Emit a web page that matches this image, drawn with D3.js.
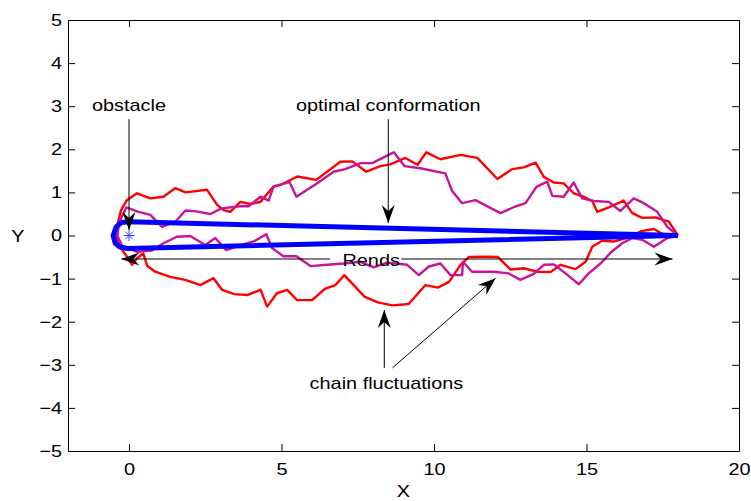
<!DOCTYPE html>
<html>
<head>
<meta charset="utf-8">
<script src="https://cdn.jsdelivr.net/npm/d3@7"></script>
<style>
  body { margin: 0; background: #fff; }
  svg { font-family: 'Liberation Sans', Arial, Helvetica, sans-serif; }
</style>
</head>
<body>
<div id="chart"></div>
<script>
// chain 1 (red): top from the right end to the nose, then the bottom back
const redX = [18.0, 17.70, 17.26, 16.83, 16.50, 16.22, 15.75, 15.35, 15.19, 14.91, 14.58, 14.25, 13.93, 13.60, 13.33, 12.94, 12.56, 12.08, 11.42, 10.87, 10.21, 9.75, 9.46, 9.06, 8.57, 8.24, 7.78, 7.32, 6.93, 6.14, 5.52, 4.96, 4.73, 4.31, 3.98, 3.65, 3.32, 3.10, 2.89, 2.56, 1.85, 1.52, 1.13, 0.70, 0.26, -0.07, -0.26, -0.37, -0.39, -0.29, -0.07, 0.10, 0.27, 0.47, 0.60, 0.86, 1.35, 1.85, 2.34, 2.77, 3.05, 3.45, 3.90, 4.31, 4.53, 4.85, 5.19, 5.51, 6.00, 6.44, 6.77, 7.06, 7.37, 7.72, 8.16, 8.64, 9.17, 9.72, 10.13, 10.50, 10.87, 11.14, 11.69, 12.10, 12.51, 12.94, 13.38, 13.82, 14.15, 14.64, 14.97, 15.19, 15.51, 15.88, 16.30, 16.80, 17.21, 17.53, 18.0]
const redY = [0.0, 0.32, 0.42, 0.41, 0.52, 0.81, 0.66, 0.55, 0.80, 0.90, 0.98, 1.21, 1.23, 1.36, 1.69, 1.58, 1.54, 1.31, 1.80, 1.87, 1.77, 1.93, 1.64, 1.80, 1.65, 1.61, 1.48, 1.72, 1.71, 1.29, 1.37, 1.17, 1.13, 0.78, 0.73, 0.78, 0.55, 0.59, 0.71, 1.06, 1.00, 1.10, 0.90, 0.86, 0.98, 0.82, 0.59, 0.28, -0.03, -0.26, -0.49, -0.68, -0.52, -0.42, -0.71, -0.84, -0.96, -1.03, -1.15, -0.99, -1.26, -1.36, -1.38, -1.26, -1.65, -1.34, -1.26, -1.50, -1.50, -1.23, -1.15, -0.92, -1.15, -1.42, -1.55, -1.62, -1.59, -1.15, -1.21, -1.07, -0.68, -0.50, -0.49, -0.50, -0.79, -0.76, -0.84, -0.85, -0.68, -0.78, -0.61, -0.26, -0.12, -0.14, -0.06, 0.10, 0.15, 0.02, 0.0]

// chain 2 (magenta)
const magentaX = [18.0, 17.65, 17.32, 16.88, 16.55, 16.11, 15.73, 15.24, 14.86, 14.58, 14.25, 13.88, 13.71, 13.36, 13.00, 12.59, 12.18, 11.36, 10.92, 10.59, 10.37, 9.55, 9.03, 8.68, 7.97, 7.59, 7.09, 6.71, 6.17, 5.49, 5.26, 4.74, 4.58, 4.31, 3.92, 3.65, 3.03, 2.67, 2.21, 1.85, 1.52, 1.08, 0.70, 0.31, -0.09, -0.32, -0.38, -0.22, 0.04, 0.26, 0.75, 1.13, 1.57, 2.01, 2.50, 2.83, 3.19, 3.68, 4.11, 4.50, 4.69, 5.06, 5.49, 5.95, 6.49, 7.04, 7.59, 8.02, 8.46, 9.12, 9.50, 9.83, 10.21, 10.54, 10.92, 10.95, 11.25, 11.96, 12.45, 12.83, 13.27, 13.60, 13.93, 14.31, 14.75, 15.07, 15.46, 15.79, 16.17, 16.50, 16.83, 17.21, 17.65, 18.0]
const magentaY = [0.0, 0.20, 0.55, 0.75, 0.86, 0.57, 0.78, 0.80, 0.86, 1.23, 0.90, 0.92, 1.25, 1.13, 0.75, 0.65, 0.52, 0.82, 0.75, 1.04, 1.44, 1.56, 1.61, 1.93, 1.68, 1.68, 1.54, 1.48, 1.21, 0.90, 1.24, 1.14, 0.81, 0.90, 0.68, 0.68, 0.63, 0.50, 0.56, 0.58, 0.32, 0.20, 0.48, 0.55, 0.65, 0.31, -0.01, -0.24, -0.31, -0.38, -0.35, -0.18, -0.03, -0.01, -0.22, -0.06, -0.34, -0.22, -0.13, 0.03, -0.29, -0.48, -0.48, -0.71, -0.68, -0.65, -0.61, -0.74, -0.63, -0.68, -0.92, -0.72, -0.65, -0.92, -0.92, -0.61, -0.84, -0.84, -0.88, -1.03, -0.89, -0.68, -0.67, -0.88, -1.13, -0.88, -0.65, -0.40, -0.18, -0.06, -0.10, -0.26, -0.06, 0.0]

// optimal conformation (blue)
const blueX = [18.0, 0.0, -0.25, -0.42, -0.52, -0.45, -0.30, -0.05, 18.0]
const blueY = [0.0, 0.32, 0.30, 0.20, 0.0, -0.18, -0.27, -0.30, 0.0]

const obstacle = [0, 0]

const xTicks = [0, 5, 10, 15, 20]
const yTicks = [-5, -4, -3, -2, -1, 0, 1, 2, 3, 4, 5]

const W = 751
const H = 501
const margin = { top: 20, right: 12, bottom: 50, left: 68 }
const stretch = 1.17 // the reference text is wider than it is tall

const svg = d3.select('#chart').append('svg')
  .attr('width', W)
  .attr('height', H)

const x = d3.scaleLinear().domain([-2, 20]).range([margin.left, W - margin.right])
const y = d3.scaleLinear().domain([-5, 5]).range([H - margin.bottom, margin.top])

// box with inward ticks on all four sides
svg.append('g')
  .attr('transform', `translate(0,${y(-5)})`)
  .call(d3.axisBottom(x).tickValues(xTicks).tickSizeInner(-7).tickSizeOuter(0).tickPadding(12))
svg.append('g')
  .attr('transform', `translate(0,${y(5)})`)
  .call(d3.axisTop(x).tickValues(xTicks).tickSizeInner(-7).tickSizeOuter(0).tickFormat(''))
svg.append('g')
  .attr('transform', `translate(${x(-2)},0)`)
  .call(d3.axisLeft(y).tickValues(yTicks).tickSizeInner(-7).tickSizeOuter(0).tickPadding(5)
    .tickFormat(d => d < 0 ? '\u2212' + Math.abs(d) : d))
svg.append('g')
  .attr('transform', `translate(${x(20)},0)`)
  .call(d3.axisRight(y).tickValues(yTicks).tickSizeInner(-7).tickSizeOuter(0).tickFormat(''))

svg.selectAll('.tick line').attr('stroke', '#000')
svg.selectAll('.domain').attr('stroke', '#000')
svg.selectAll('.tick text')
  .attr('fill', '#000')
  .style('font-size', '17px')
  .attr('transform', `scale(${stretch},1)`)

// helper for plain labels
function label (txt, px, py, anchor, rotate) {
  const t = svg.append('text')
    .attr('transform', `translate(${px},${py})` + (rotate ? ` rotate(${rotate})` : '') + ` scale(${stretch},1)`)
    .attr('text-anchor', anchor || 'middle')
    .style('font-size', '17px')
    .attr('fill', '#000')
    .text(txt)
  return t
}

label('X', x(9), 497)
label('Y', 18, y(0) + 6)

// chains
const line = d3.line()
  .x(d => x(d[0]))
  .y(d => y(d[1]))

svg.append('path')
  .datum(d3.zip(redX, redY))
  .attr('fill', 'none')
  .attr('stroke', '#ff0000')
  .attr('stroke-width', 2.4)
  .attr('stroke-linejoin', 'round')
  .attr('d', line)

svg.append('path')
  .datum(d3.zip(magentaX, magentaY))
  .attr('fill', 'none')
  .attr('stroke', '#c8139a')
  .attr('stroke-width', 2.4)
  .attr('stroke-linejoin', 'round')
  .attr('d', line)

svg.append('path')
  .datum(d3.zip(blueX, blueY))
  .attr('fill', 'none')
  .attr('stroke', '#0000ff')
  .attr('stroke-width', 5)
  .attr('stroke-linejoin', 'round')
  .attr('d', line)

// obstacle marker (asterisk)
const star = svg.append('g')
  .attr('transform', `translate(${x(obstacle[0])},${y(obstacle[1])})`)
  .attr('stroke', '#3344ff')
  .attr('stroke-width', 1)
d3.range(4).forEach(i => {
  const a = i * Math.PI / 4
  star.append('line')
    .attr('x1', -5.5 * Math.cos(a)).attr('y1', -5.5 * Math.sin(a))
    .attr('x2', 5.5 * Math.cos(a)).attr('y2', 5.5 * Math.sin(a))
})

// arrow heads
svg.append('defs').append('marker')
  .attr('id', 'head')
  .attr('markerUnits', 'userSpaceOnUse')
  .attr('viewBox', '-19 -8 20 16')
  .attr('refX', 0)
  .attr('refY', 0)
  .attr('markerWidth', 20)
  .attr('markerHeight', 16)
  .attr('orient', 'auto')
  .append('path')
  .attr('d', 'M0,0L-18,-6.5L-12,0L-18,6.5Z')
  .attr('fill', '#000')

// annotations, in data coordinates: [x1, y1, x2, y2] from tail to tip
const arrows = [
  [0, 2.7, 0, 0.13],
  [8.5, 2.7, 8.5, 0.29],
  [6.6, -0.545, -0.25, -0.545],
  [8.93, -0.545, 17.82, -0.545],
  [8.37, -3.07, 8.37, -1.73],
  [8.64, -3.07, 12.02, -0.99]
]

svg.selectAll('.arrow')
  .data(arrows)
  .enter()
  .append('line')
  .attr('class', 'arrow')
  .attr('x1', d => x(d[0]))
  .attr('y1', d => y(d[1]))
  .attr('x2', d => x(d[2]))
  .attr('y2', d => y(d[3]))
  .attr('stroke', '#000')
  .attr('stroke-width', 1)
  .attr('marker-end', 'url(#head)')

label('obstacle', x(0), y(2.89))
label('optimal conformation', x(8.5), y(2.9))
label('Rends', x(7.94), y(-0.71))
label('chain fluctuations', x(8.44), y(-3.56))
</script>
</body>
</html>
